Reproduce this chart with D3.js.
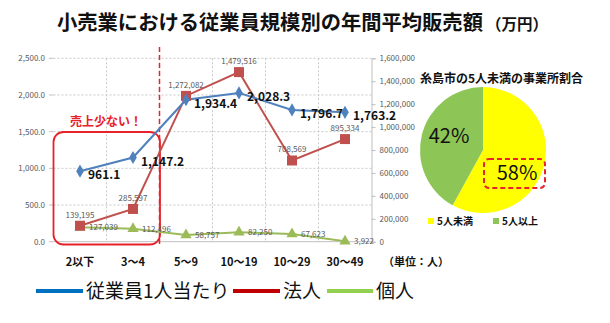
<!DOCTYPE html>
<html><head><meta charset="utf-8">
<script src="https://cdn.jsdelivr.net/npm/d3@7/dist/d3.min.js"></script>
<style>
body{margin:0;background:#fff;}
svg{display:block;font-family:"Noto Sans CJK JP","Noto Sans",sans-serif;}
</style></head>
<body><svg id="c" width="610" height="323"></svg>
<script>
const categories = ["2以下","3～4","5～9","10～19","10～29","30～49"];
const perEmployee = [961.1,1147.2,1934.4,2028.3,1796.7,1763.2];
const corporate = [139195,285597,1272082,1479516,708569,895334];
const individual = [127039,112496,58757,82250,67623,3922];
const leftTicks = [0,500,1000,1500,2000,2500];
const rightTicks = [0,200000,400000,600000,800000,1000000,1200000,1400000,1600000];
const pieLabels = ["5人未満","5人以上"];
const pieValues = [58,42];

const svg = d3.select("#c");
const FONT = '"Noto Sans CJK JP","Noto Sans",sans-serif';

// Title
const title = svg.append("text").attr("x",57).attr("y",30).attr("font-size",20.3).attr("font-weight","bold").attr("fill","#111");
title.append("tspan").text("小売業における従業員規模別の年間平均販売額");
title.append("tspan").attr("font-size",15.5).attr("dx",3).text("（万円）");

const x = d3.scaleBand().domain(categories).range([53.5,371.5]);
const cx = c => x(c) + x.bandwidth()/2;
const yL = d3.scaleLinear().domain([0,2500]).range([241.7,58.3]);
const yR = d3.scaleLinear().domain([0,1600000]).range([241.7,58.3]);

// Gridlines
const g = svg.append("g");
leftTicks.forEach(t=>{
  g.append("line").attr("x1",53.5).attr("x2",371.5).attr("y1",yL(t)).attr("y2",yL(t))
   .attr("stroke", t===0?"#bfbfbf":"#c8c8c8").attr("stroke-dasharray", t===0?null:"2,2").attr("stroke-width",1);
  g.append("line").attr("x1",49).attr("x2",53.5).attr("y1",yL(t)).attr("y2",yL(t)).attr("stroke","#bfbfbf");
  g.append("text").attr("x",45).attr("y",yL(t)+3).attr("text-anchor","end").attr("font-size",8).attr("fill","#595959").text(d3.format(",.1f")(t));
});
categories.forEach((c,i)=>{
  if(i>0) g.append("line").attr("x1",x(c)).attr("x2",x(c)).attr("y1",58.3).attr("y2",241.7).attr("stroke","#c8c8c8").attr("stroke-dasharray","2,2");
});

// Right axis
const ra = svg.append("g").attr("transform","translate(371.5,0)")
  .call(d3.axisRight(yR).tickValues(rightTicks).tickSize(4).tickPadding(4).tickFormat(d3.format(",")));
ra.select(".domain").attr("stroke","#bfbfbf");
ra.selectAll(".tick line").attr("stroke","#bfbfbf");
ra.selectAll("text").attr("font-size",8).attr("fill","#595959").attr("font-family",FONT);

// Category labels
categories.forEach(c=>{
  svg.append("text").attr("x",cx(c)).attr("y",266).attr("text-anchor","middle").attr("font-size",11).attr("font-weight","bold").attr("fill","#111").text(c);
});
svg.append("text").attr("x",383).attr("y",266).attr("font-size",11).attr("font-weight","bold").attr("fill","#111").text("（単位：人）");

// Red rounded box and dashed line
svg.append("rect").attr("x",53.5).attr("y",132).attr("width",106.5).attr("height",112.5).attr("rx",10)
  .attr("fill","none").attr("stroke","#e8222a").attr("stroke-width",1.8);
svg.append("text").attr("x",106).attr("y",126).attr("text-anchor","middle").attr("font-size",12).attr("font-weight","bold").attr("fill","#e8222a").text("売上少ない！");
svg.append("line").attr("x1",x(categories[2])).attr("x2",x(categories[2])).attr("y1",47).attr("y2",247)
  .attr("stroke","#e8222a").attr("stroke-width",1.5).attr("stroke-dasharray","5,3");

// Series
const lineL = d3.line().x((d,i)=>cx(categories[i])).y(d=>yL(d));
const lineR = d3.line().x((d,i)=>cx(categories[i])).y(d=>yR(d));

svg.append("path").attr("d",lineR(individual)).attr("fill","none").attr("stroke","#9bbb59").attr("stroke-width",2);
svg.append("path").attr("d",lineR(corporate)).attr("fill","none").attr("stroke","#c0504d").attr("stroke-width",2);
svg.append("path").attr("d",lineL(perEmployee)).attr("fill","none").attr("stroke","#4f81bd").attr("stroke-width",2);

const tri = d3.symbol().type(d3.symbolTriangle).size(55);
individual.forEach((v,i)=>{
  svg.append("path").attr("d",tri()).attr("transform",`translate(${cx(categories[i])},${yR(v)})`).attr("fill","#9bbb59");
  svg.append("text").attr("x",cx(categories[i])+9).attr("y",yR(v)+3).attr("font-size",8).attr("fill","#595959").text(d3.format(",")(v));
});
corporate.forEach((v,i)=>{
  svg.append("rect").attr("x",cx(categories[i])-5).attr("y",yR(v)-5).attr("width",10).attr("height",10).attr("fill","#c0504d");
  svg.append("text").attr("x",cx(categories[i])).attr("y",yR(v)-8).attr("text-anchor","middle").attr("font-size",8).attr("fill","#595959").text(d3.format(",")(v));
});
const dia = d3.symbol().type(d3.symbolDiamond).size(50);
perEmployee.forEach((v,i)=>{
  svg.append("path").attr("d",dia()).attr("transform",`translate(${cx(categories[i])},${yL(v)})`).attr("fill","#4f81bd");
  svg.append("text").attr("x",cx(categories[i])+8).attr("y",yL(v)+8).attr("font-size",12).attr("font-weight","bold").attr("fill","#111").text(d3.format(",.1f")(v));
});

// Legend
const leg = [["従業員1人当たり","#0070c0",36,83],["法人","#c00000",233,280],["個人","#92d050",327,373]];
leg.forEach(([t,col,a,b])=>{
  svg.append("line").attr("x1",a).attr("x2",b).attr("y1",291).attr("y2",291).attr("stroke",col).attr("stroke-width",4);
  svg.append("text").attr("x",b+3).attr("y",298).attr("font-size",19).attr("fill","#111").text(t);
});

// Pie
svg.append("text").attr("x",420).attr("y",83).attr("font-size",12).attr("font-weight","bold").attr("fill","#111").text("糸島市の5人未満の事業所割合");
const pie = d3.pie().sort(null).value(d=>d)(pieValues);
const arc = d3.arc().innerRadius(0).outerRadius(63);
const pg = svg.append("g").attr("transform","translate(483,150)");
const pieColors = ["#ffff00","#8dc556"];
pg.selectAll("path").data(pie).join("path").attr("d",arc).attr("fill",(d,i)=>pieColors[i]);
svg.append("text").attr("x",449).attr("y",143).attr("text-anchor","middle").attr("font-size",20).attr("fill","#111").text(pieValues[1]+"%");
svg.append("text").attr("x",517).attr("y",180).attr("text-anchor","middle").attr("font-size",20).attr("fill","#111").text(pieValues[0]+"%");
svg.append("rect").attr("x",484).attr("y",159).attr("width",61).attr("height",29).attr("rx",5)
  .attr("fill","none").attr("stroke","#e8222a").attr("stroke-width",2).attr("stroke-dasharray","5,3");
[[428,0],[493,1]].forEach(([px,i])=>{
  svg.append("rect").attr("x",px).attr("y",218).attr("width",6).attr("height",6).attr("fill",pieColors[i]);
  svg.append("text").attr("x",px+9).attr("y",225).attr("font-size",10).attr("font-weight","bold").attr("fill","#111").text(pieLabels[i]);
});
</script></body></html>
